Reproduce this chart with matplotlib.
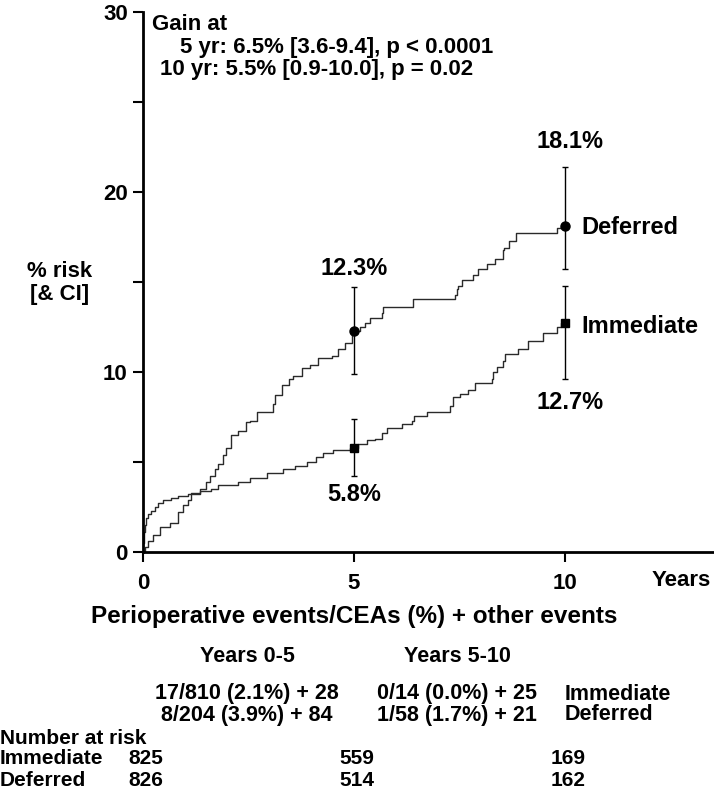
import matplotlib
matplotlib.use("Agg")
import matplotlib.pyplot as plt
from matplotlib.transforms import blended_transform_factory

plt.rcParams['font.family'] = ['Liberation Sans', 'DejaVu Sans']
plt.rcParams['font.weight'] = 'bold'

# Kaplan-Meier style cumulative risk (%)
deferred_t = [0, 0.05, 0.12, 0.24, 0.4, 0.64, 0.83, 0.95, 1.07, 1.14, 1.35, 1.5, 1.59,
              1.7, 1.78, 1.9, 1.97, 2.09, 2.25, 2.44, 2.54, 2.7, 3.08, 3.13, 3.29, 3.45,
              3.55, 3.77, 3.96, 4.14, 4.48, 4.62, 4.79, 4.95, 5.0, 5.14, 5.26, 5.38, 5.66,
              5.69, 6.4, 7.39, 7.44, 7.47, 7.56, 7.82, 7.94, 8.15, 8.34, 8.53, 8.56, 8.67,
              8.84, 9.81, 9.9, 10.0]
deferred_r = [0, 0.3, 0.6, 0.94, 1.4, 1.6, 2.2, 2.6, 2.9, 3.3, 3.5, 3.9, 4.2,
              4.6, 4.9, 5.4, 5.8, 6.5, 6.7, 7.2, 7.3, 7.8, 8.2, 8.7, 9.3, 9.6,
              9.8, 10.2, 10.4, 10.8, 10.9, 11.3, 11.6, 12.2, 12.3, 12.5, 12.7, 13.0, 13.3,
              13.6, 14.05, 14.3, 14.6, 14.8, 15.1, 15.4, 15.7, 16.0, 16.3, 16.8, 16.9, 17.3,
              17.7, 18.0, 18.1, 18.1]

immediate_t = [0, 0.01, 0.02, 0.04, 0.07, 0.12, 0.19, 0.28, 0.36, 0.47, 0.66, 0.83, 1.07,
               1.35, 1.6, 1.78, 2.25, 2.54, 2.94, 3.32, 3.6, 3.89, 4.1, 4.27, 4.5, 4.9,
               5.1, 5.3, 5.5, 5.66, 5.78, 6.14, 6.37, 6.42, 6.73, 7.27, 7.35, 7.51, 7.7,
               7.87, 8.27, 8.29, 8.39, 8.53, 8.58, 8.89, 9.12, 9.48, 9.81, 9.9, 10.0]
immediate_r = [0, 0.5, 1.1, 1.5, 1.9, 2.1, 2.3, 2.5, 2.7, 2.9, 3.0, 3.1, 3.2,
               3.4, 3.5, 3.7, 3.9, 4.1, 4.4, 4.6, 4.8, 5.0, 5.3, 5.5, 5.65, 5.8,
               6.0, 6.2, 6.3, 6.6, 6.9, 7.1, 7.3, 7.55, 7.8, 8.1, 8.6, 8.8, 9.0,
               9.4, 9.6, 10.0, 10.3, 10.6, 11.0, 11.3, 11.7, 12.15, 12.5, 12.7, 12.7]

# estimates with confidence intervals at 5 and 10 years
est_years = [5, 10]
deferred_est = [12.3, 18.1]
deferred_lo = [9.9, 15.7]
deferred_hi = [14.7, 21.4]
immediate_est = [5.8, 12.7]
immediate_lo = [4.2, 9.6]
immediate_hi = [7.4, 14.8]

gain_lines = ["Gain at",
              "5 yr: 6.5% [3.6-9.4], p < 0.0001",
              "10 yr: 5.5% [0.9-10.0], p = 0.02"]

event_periods = ["Years 0-5", "Years 5-10"]
events_immediate = ["17/810 (2.1%) + 28", "0/14 (0.0%) + 25"]
events_deferred = ["8/204 (3.9%) + 84", "1/58 (1.7%) + 21"]

risk_years = [0, 5, 10]
risk_immediate = [825, 559, 169]
risk_deferred = [826, 514, 162]

W, H = 714, 789
fig = plt.figure(figsize=(W / 100, H / 100), dpi=100)
ax = fig.add_axes([143 / W, 1 - 552 / H, (W - 143) / W, 540 / H])


def px(x, y):
    # pixel position in the figure -> figure fraction
    return x / W, 1 - y / H


line_col = '#2a2a2a'
ax.step(deferred_t, deferred_r, where='post', color=line_col, lw=1.0)
ax.step(immediate_t, immediate_r, where='post', color=line_col, lw=1.0)

for est, lo, hi, mk, ms in [(deferred_est, deferred_lo, deferred_hi, 'o', 6.5),
                            (immediate_est, immediate_lo, immediate_hi, 's', 5.5)]:
    yerr = [[e - l for e, l in zip(est, lo)], [h - e for e, h in zip(est, hi)]]
    ax.errorbar(est_years, est, yerr=yerr, fmt=mk, color='black', ms=ms,
                elinewidth=1, capsize=2.5, capthick=1, zorder=5)

# value labels
fs_val = 17
ax.annotate(f"{deferred_est[0]}%", (est_years[0], deferred_hi[0]), xytext=(0, 13.5),
            textcoords='offset points', ha='center', va='center', fontsize=fs_val)
ax.annotate(f"{immediate_est[0]}%", (est_years[0], immediate_lo[0]), xytext=(0, -13),
            textcoords='offset points', ha='center', va='center', fontsize=fs_val)
ax.annotate(f"{deferred_est[1]}%", (est_years[1], deferred_hi[1]), xytext=(3.6, 18.5),
            textcoords='offset points', ha='center', va='center', fontsize=fs_val)
ax.annotate(f"{immediate_est[1]}%", (est_years[1], immediate_lo[1]), xytext=(3.6, -16.5),
            textcoords='offset points', ha='center', va='center', fontsize=fs_val)
ax.annotate("Deferred", (est_years[1], deferred_est[1]), xytext=(12, -1),
            textcoords='offset points', ha='left', va='center', fontsize=fs_val)
ax.annotate("Immediate", (est_years[1], immediate_est[1]), xytext=(12, -2.5),
            textcoords='offset points', ha='left', va='center', fontsize=fs_val)

# axes styling
ax.set_xlim(0, (W - 143) / 42.2)
ax.set_ylim(0, 30)
ax.spines['top'].set_visible(False)
ax.spines['right'].set_visible(False)
ax.spines['left'].set_linewidth(2)
ax.spines['bottom'].set_linewidth(2)
ax.patch.set_alpha(0)
ax.set_xticks([0, 5, 10])
ax.set_yticks([0, 5, 10, 15, 20, 25, 30])
ax.set_yticklabels(['0', '', '10', '', '20', '', '30'])
ax.tick_params(direction='out', length=7, width=1.5, labelsize=16, pad=4)
ax.tick_params(axis='x', pad=8)
for lab in ax.get_xticklabels() + ax.get_yticklabels():
    lab.set_fontweight('bold')

fig.text(*px(652, 580), "Years", ha='left', va='center', fontsize=16)
fig.text(*px(60, 283), "% risk\n[& CI]", ha='center', va='center', fontsize=16,
         linespacing=1.15)

# gain text
fig.text(*px(152, 24), gain_lines[0], ha='left', va='center', fontsize=16)
fig.text(*px(493, 47), gain_lines[1], ha='right', va='center', fontsize=16)
fig.text(*px(473, 69), gain_lines[2], ha='right', va='center', fontsize=16)

# events table
fs_tab = 15.5
fig.text(*px(354, 617), "Perioperative events/CEAs (%) + other events",
         ha='center', va='center', fontsize=17.5)
for cx, per, ei, ed in zip([247, 457], event_periods, events_immediate, events_deferred):
    fig.text(*px(cx, 656), per, ha='center', va='center', fontsize=fs_tab)
    fig.text(*px(cx, 694), ei, ha='center', va='center', fontsize=fs_tab)
    fig.text(*px(cx, 715), ed, ha='center', va='center', fontsize=fs_tab)
fig.text(*px(565, 694), "Immediate", ha='left', va='center', fontsize=fs_tab)
fig.text(*px(565, 715), "Deferred", ha='left', va='center', fontsize=fs_tab)

# number at risk
fs_risk = 15
fig.text(*px(0, 738), "Number at risk", ha='left', va='center', fontsize=fs_risk)
fig.text(*px(0, 759), "Immediate", ha='left', va='center', fontsize=fs_risk)
fig.text(*px(0, 780), "Deferred", ha='left', va='center', fontsize=fs_risk)
trans = blended_transform_factory(ax.transData, fig.transFigure)
for yr, ni, nd in zip(risk_years, risk_immediate, risk_deferred):
    ax.text(yr + 0.07, 1 - 759 / H, str(ni), transform=trans, ha='center', va='center',
            fontsize=fs_risk, clip_on=False)
    ax.text(yr + 0.07, 1 - 780 / H, str(nd), transform=trans, ha='center', va='center',
            fontsize=fs_risk, clip_on=False)

fig.savefig("out.png", dpi=100)
